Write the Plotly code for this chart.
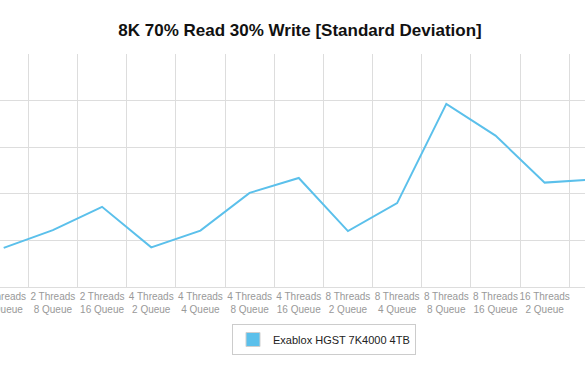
import plotly.graph_objects as go

categories = [
    "2 Threads<br>4 Queue", "2 Threads<br>8 Queue", "2 Threads<br>16 Queue",
    "4 Threads<br>2 Queue", "4 Threads<br>4 Queue", "4 Threads<br>8 Queue",
    "4 Threads<br>16 Queue", "8 Threads<br>2 Queue", "8 Threads<br>4 Queue",
    "8 Threads<br>8 Queue", "8 Threads<br>16 Queue", "16 Threads<br>2 Queue",
    "16 Threads<br>4 Queue",
]
std_dev = [0.84, 1.22, 1.72, 0.85, 1.21, 2.02, 2.34, 1.20, 1.80, 3.93, 3.25, 2.24, 2.31]
series_name = "Exablox HGST 7K4000 4TB"
title_text = "8K 70% Read 30% Write [Standard Deviation]"

line_color = "#5bc0eb"
font_family = "Helvetica, Arial, Liberation Sans, sans-serif"

fig = go.Figure()
fig.add_trace(go.Scatter(
    x=categories, y=std_dev, mode="lines",
    line=dict(color=line_color, width=2), showlegend=False,
    name=series_name, hoverinfo="y",
))
fig.add_trace(go.Scatter(
    x=[None], y=[None], mode="markers", name=series_name,
    marker=dict(symbol="square", size=14, color=line_color,
                line=dict(color="#cfcfcf", width=1)),
    showlegend=True,
))

fig.update_layout(
    width=585, height=375,
    margin=dict(l=0, r=0, t=54, b=88),
    paper_bgcolor="white", plot_bgcolor="white",
    font=dict(family=font_family, color="#333"),
    title=dict(text="<b>" + title_text + "</b>", x=300 / 585, xref="container",
               xanchor="center", y=1 - 30 / 375, yref="container", yanchor="middle",
               font=dict(size=17, color="#111", family=font_family)),
    xaxis=dict(
        type="category", categoryorder="array", categoryarray=categories,
        range=[-0.075, 11.82], showgrid=True, gridcolor="#dddddd", gridwidth=1,
        tickson="boundaries", ticks="", tickangle=0,
        showline=True, linecolor="#dddddd", linewidth=1,
        tickfont=dict(size=10, color="#999999", family=font_family),
        automargin=False, zeroline=False, fixedrange=True,
    ),
    yaxis=dict(
        range=[0, 5], dtick=1, showgrid=True, gridcolor="#dddddd", gridwidth=1,
        showticklabels=False, zeroline=False, automargin=False, fixedrange=True,
    ),
    legend=dict(
        orientation="h", x=324 / 585, xanchor="center", y=(287 - 324) / 233, yanchor="top",
        bordercolor="#cccccc", borderwidth=1, font=dict(size=11, color="#222"),
        itemwidth=30,
    ),
)

fig.write_html("out.html", config={"displayModeBar": False},
               post_script="document.body.style.margin='0';")
